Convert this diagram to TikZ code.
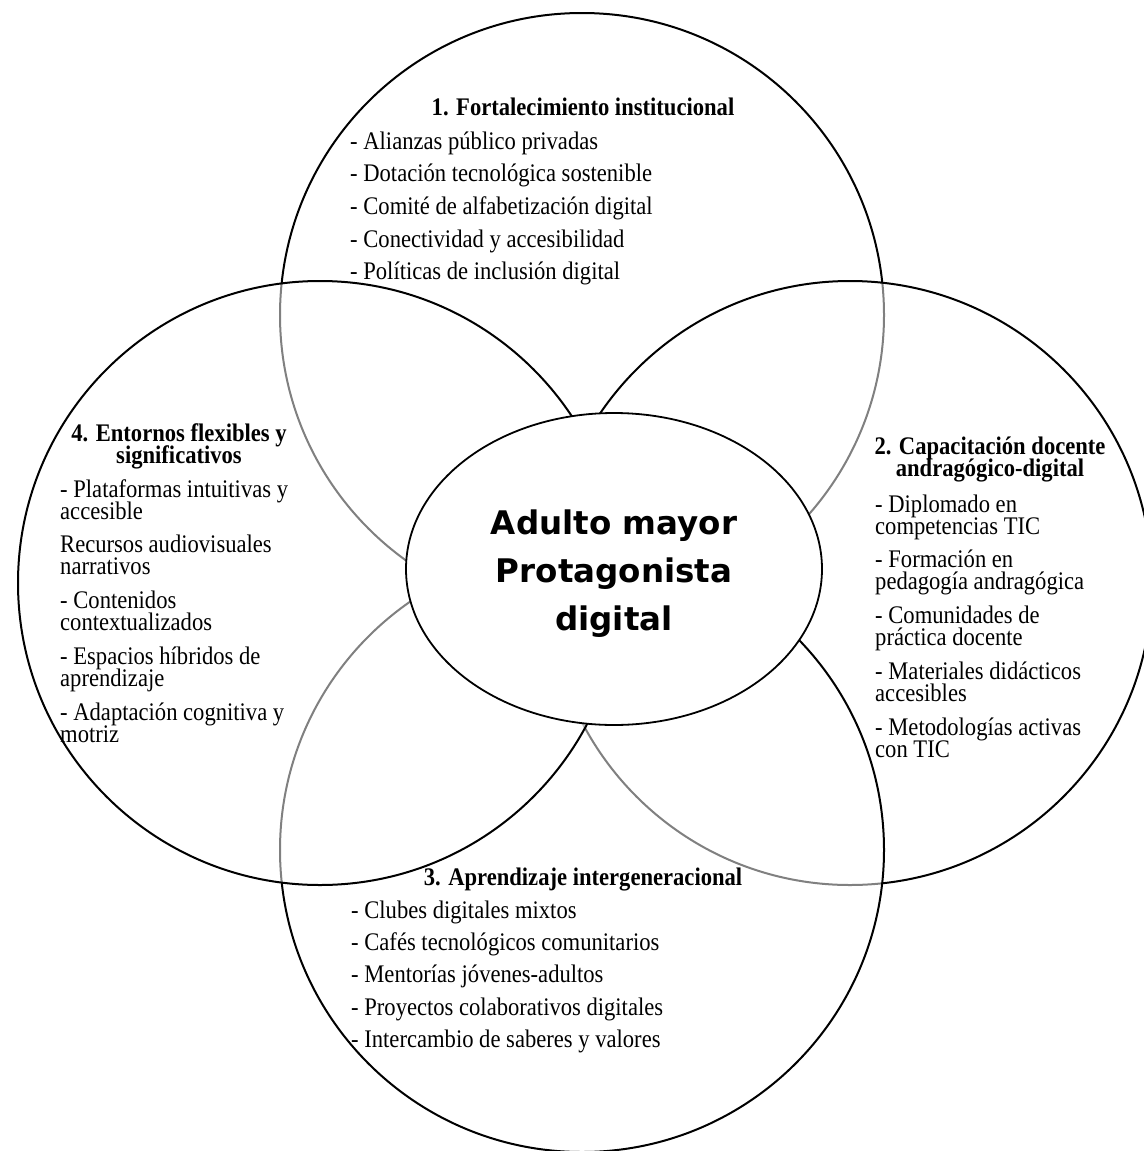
\documentclass[tikz,border=0pt]{standalone}
\usepackage{fontspec}
\usepackage{graphicx}
\setmainfont{Liberation Serif}
\newfontfamily\corefont{DejaVu Sans}
\usetikzlibrary{shapes.geometric}
\newcommand\vs{1.12}
\newcommand\rowgap[1]{\noalign{\vskip#1}}
% left-aligned lines: #1 baselineskip (pre-scale), #2 rows
\newcommand\Lblock[2]{\scalebox{1}[\vs]{\vtop{\fontsize{22.6}{#1}\selectfont\lineskiplimit=-50pt\lineskip=0pt\halign{##\hfil\cr#2\crcr}}}}
\newcommand\Cblock[2]{\scalebox{1}[\vs]{\vtop{\fontsize{22.6}{#1}\selectfont\bfseries\lineskiplimit=-50pt\lineskip=0pt\halign{\hfil##\hfil\cr#2\crcr}}}}
\begin{document}
\begin{tikzpicture}[x=1pt,y=-1pt,
  ring/.style={circle, draw=black, line width=2pt, fill=white, fill opacity=0.5, minimum size=604pt, inner sep=0pt},
  core/.style={ellipse, draw=black, line width=1.8pt, fill=white, minimum width=416pt, minimum height=312pt, inner sep=0pt},
  items/.style={anchor=base west, inner sep=0pt, text=black},
  title/.style={anchor=base, inner sep=0pt, text=black}]
\useasboundingbox (0,0) rectangle (1143,1151);
\fill[white] (0,0) rectangle (1143,1151);
% circles (stacking order as in the reference)
\node[ring] (c1) at (582,315) {};
\node[ring] (c2) at (850,583) {};
\node[ring] (c3) at (582,850) {};
\node[ring] (c4) at (320,583) {};
\node[core] (core) at (614,569) {};
% centre text
\node[title] (coretext) at (614,534) {\vtop{\corefont\bfseries\fontsize{32.5}{48}\selectfont\lineskiplimit=-50pt\halign{\hfil#\hfil\cr Adulto mayor\cr Protagonista\cr digital\crcr}}};
% 1
\node[title] (t1) at (583,115) {\Cblock{20}{1. Fortalecimiento institucional}};
\node[items] (i1) at (350,149) {\Lblock{29.24}{- Alianzas público privadas\cr - Dotación tecnológica sostenible\cr - Comité de alfabetización digital\cr - Conectividad y accesibilidad\cr - Políticas de inclusión digital}};
% 2
\node[title] (t2) at (990,454) {\Cblock{19.64}{2. Capacitación docente\cr andragógico-digital}};
\node[items] (i2) at (875,512) {\Lblock{19.64}{- Diplomado en\cr competencias TIC\cr\rowgap{10.5pt} - Formación en\cr pedagogía andragógica\cr\rowgap{10.5pt} - Comunidades de\cr práctica docente\cr\rowgap{10.5pt} - Materiales didácticos\cr accesibles\cr\rowgap{10.5pt} - Metodologías activas\cr con TIC}};
% 3
\node[title] (t3) at (583,885) {\Cblock{20}{3. Aprendizaje intergeneracional}};
\node[items] (i3) at (351,918) {\Lblock{29.0}{- Clubes digitales mixtos\cr - Cafés tecnológicos comunitarios\cr - Mentorías jóvenes-adultos\cr - Proyectos colaborativos digitales\cr - Intercambio de saberes y valores}};
% 4
\node[title] (t4) at (179,441) {\Cblock{19.64}{4. Entornos flexibles y\cr significativos}};
\node[items] (i4) at (60,497) {\Lblock{19.64}{- Plataformas intuitivas y\cr accesible\cr\rowgap{10.7pt} Recursos audiovisuales\cr narrativos\cr\rowgap{10.7pt} - Contenidos\cr contextualizados\cr\rowgap{10.7pt} - Espacios híbridos de\cr aprendizaje\cr\rowgap{10.7pt} - Adaptación cognitiva y\cr motriz}};
\end{tikzpicture}
\end{document}
